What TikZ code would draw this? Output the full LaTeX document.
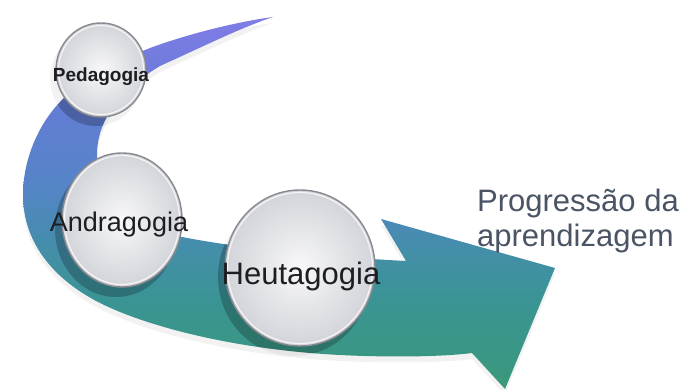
\documentclass[tikz,border=0pt]{standalone}
\usepackage{fontspec}
\setmainfont{Liberation Sans}
\usetikzlibrary{shapes.geometric}
\definecolor{cP}{RGB}{128,124,230}
\definecolor{cV}{RGB}{100,124,214}
\definecolor{cB}{RGB}{86,132,200}
\definecolor{cS}{RGB}{68,142,170}
\definecolor{cT}{RGB}{58,148,148}
\definecolor{cG}{RGB}{58,152,122}
\definecolor{discin}{RGB}{248,248,250}
\definecolor{discout}{RGB}{210,212,217}
\definecolor{discline}{RGB}{135,137,143}
\definecolor{lbltext}{RGB}{28,30,34}
\definecolor{progtext}{RGB}{74,84,100}
\pgfdeclareverticalshading{bandshade}{100bp}{color(0bp)=(cG); color(25bp)=(cG); color(37bp)=(cT); color(44bp)=(cS); color(53bp)=(cB); color(64bp)=(cV); color(75bp)=(cP); color(100bp)=(cP)}
\def\bandpath{(273,17) .. controls (235,22) and (185,35) .. (150,48)
  .. controls (115,62) and (80,80) .. (60,102)
  .. controls (38,125) and (23,160) .. (23,195)
  .. controls (23,235) and (45,275) .. (100,303)
  .. controls (150,328) and (240,350) .. (340,355)
  .. controls (400,358) and (450,356) .. (472,353)
  -- (505,389) -- (555,268) -- (381,219) -- (406,261)
  .. controls (330,257) and (250,250) .. (182,237)
  .. controls (130,228) and (97,195) .. (97,155)
  .. controls (97,120) and (120,90) .. (160,66)
  .. controls (200,48) and (240,28) .. (273,17) -- cycle}
\tikzset{
  disc/.style={ellipse, inner sep=0pt, shade, inner color=discin, outer color=discout, draw=discline, line width=1.4pt},
  rim/.style={white, opacity=.75, line width=1.2pt},
  lbl/.style={anchor=base, text=lbltext, inner sep=0pt},
  prog/.style={anchor=base west, text=progtext, inner sep=0pt, font=\fontsize{31}{31}\selectfont}
}
\begin{document}
\begin{tikzpicture}[x=1pt,y=-1pt]
\useasboundingbox (0,0) rectangle (686,390);
% soft shadow of the band
\fill[black,opacity=.05,yshift=-6pt] \bandpath;
% band
\shade[shading=bandshade] \bandpath;
% circle shadows outside band
\fill[black,opacity=.05] (96,78) ellipse [x radius=46pt, y radius=48pt];
\fill[black,opacity=.05] (116,229) ellipse [x radius=61pt, y radius=68pt];
\fill[black,opacity=.05] (294,277) ellipse [x radius=76pt, y radius=79pt];
% circle shadows on band
\begin{scope}
  \clip \bandpath;
  \fill[black,opacity=.18] (96,78) ellipse [x radius=46pt, y radius=48pt];
  \fill[black,opacity=.18] (116,229) ellipse [x radius=61pt, y radius=68pt];
  \fill[black,opacity=.18] (294,277) ellipse [x radius=76pt, y radius=79pt];
\end{scope}
% circles
\node[disc, minimum width=90pt, minimum height=94pt] (ped) at (101,70) {};
\node[disc, minimum width=120pt, minimum height=134pt] (and) at (122,220) {};
\node[disc, minimum width=150pt, minimum height=156pt] (heu) at (300,268) {};
\draw[rim] (ped.center) ellipse [x radius=42.5pt, y radius=44.5pt];
\draw[rim] (and.center) ellipse [x radius=57.5pt, y radius=64.5pt];
\draw[rim] (heu.center) ellipse [x radius=72.5pt, y radius=75.5pt];
% labels
\node[lbl, font=\bfseries\fontsize{19}{19}\selectfont] (pedtxt) at (101,82) {Pedagogia};
\node[lbl, font=\fontsize{27}{27}\selectfont] (andtxt) at (119,232) {Andragogia};
\node[lbl, font=\fontsize{31}{31}\selectfont] (heutxt) at (301,285) {Heutagogia};
\node[prog] (prog1) at (477,212) {Progressão da};
\node[prog] (prog2) at (477,247) {aprendizagem};
\end{tikzpicture}
\end{document}
